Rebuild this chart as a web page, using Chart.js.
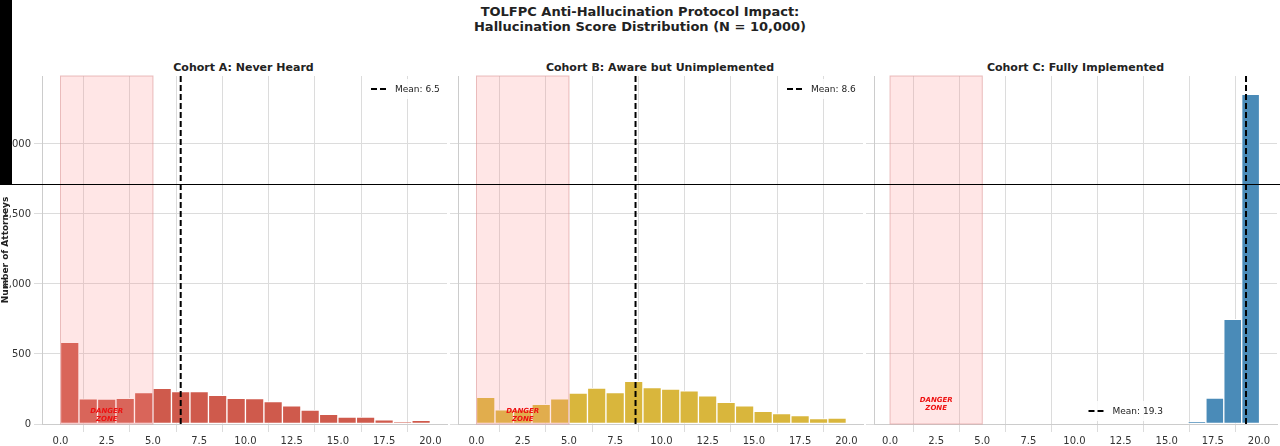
<!DOCTYPE html>
<html><head><meta charset="utf-8">
<script src="https://cdn.jsdelivr.net/npm/chart.js@4"></script>
<style>
body{margin:0;width:1280px;height:446px;overflow:hidden;background:#fff;font-family:"DejaVu Sans",sans-serif;position:relative}
.t{position:absolute;left:0;width:1280px;text-align:center;font-weight:bold;font-size:13px;line-height:15px;top:4px;color:#222}
.st{position:absolute;font-weight:bold;font-size:11px;text-align:center;top:61px;color:#222}
canvas{position:absolute}
</style></head><body>
<div class="t">TOLFPC Anti-Hallucination Protocol Impact:<br>Hallucination Score Distribution (N = 10,000)</div>
<div class="st" style="left:42px;width:403px">Cohort A: Never Heard</div>
<div class="st" style="left:458px;width:404px">Cohort B: Aware but Unimplemented</div>
<div class="st" style="left:874px;width:403px">Cohort C: Fully Implemented</div>
<div style="position:absolute;left:12px;top:0;width:1px;height:0"></div>
<div style="position:absolute;left:0;top:0;width:12px;height:185px;background:#000;z-index:5"></div>
<div style="position:absolute;left:0;top:184px;width:1280px;height:1.3px;background:#000;z-index:5"></div>
<canvas id="ca" style="left:0;top:60px;width:450px;height:400px"></canvas>
<canvas id="cb" style="left:450px;top:60px;width:416px;height:400px"></canvas>
<canvas id="cc" style="left:866px;top:60px;width:414px;height:400px"></canvas>
<script>
// histogram data (bin centers and counts)
const binsAB = [0.5,1.5,2.5,3.5,4.5,5.5,6.5,7.5,8.5,9.5,10.5,11.5,12.5,13.5,14.5,15.5,16.5,17.5,18.5,19.5];
const countsA = [583,179,178,183,224,255,231,231,205,183,181,160,129,100,69,50,50,29,14,26];
const countsB = [190,102,102,140,179,221,257,224,305,260,250,236,202,155,129,90,74,60,38,43];
const binsC = [16.64,17.61,18.58,19.55];
const countsC = [15,185,748,2355];
const means = [6.5, 8.6, 19.3];
const xTicks = [0,2.5,5,7.5,10,12.5,15,17.5,20];

const F = '"DejaVu Sans", sans-serif';

const zonePlugin = {
  id: 'zone',
  afterDatasetsDraw(chart, args, o) {
    const {ctx, chartArea: a, scales: {x, y}} = chart;
    const x0 = x.getPixelForValue(0), x5 = x.getPixelForValue(5);
    ctx.save();
    ctx.fillStyle = 'rgba(255,140,140,0.22)';
    ctx.fillRect(x0, a.top, x5 - x0, a.bottom - a.top);
    ctx.strokeStyle = 'rgba(220,150,150,0.6)';
    ctx.lineWidth = 1;
    ctx.strokeRect(x0, a.top, x5 - x0, a.bottom - a.top);
    // danger text
    ctx.fillStyle = '#ee1111';
    ctx.font = 'italic bold 7px ' + F;
    ctx.textAlign = 'center';
    const ty = y.getPixelForValue(o.textY);
    ctx.fillText('DANGER', x.getPixelForValue(2.5), ty);
    ctx.fillText('ZONE', x.getPixelForValue(2.5), ty + 8);
    // mean line
    const mx = x.getPixelForValue(o.mean);
    ctx.strokeStyle = '#000';
    ctx.lineWidth = 2;
    ctx.setLineDash([6, 3]);
    ctx.beginPath(); ctx.moveTo(mx, a.top); ctx.lineTo(mx, a.bottom); ctx.stroke();
    // legend
    const lw = 80, lh = 20;
    let lx, ly;
    if (o.legendPos === 'top') { lx = a.right - lw - 4; ly = a.top + 3; }
    else { lx = (a.left + a.right) / 2 + 5; ly = a.bottom - lh - 3; }
    ctx.setLineDash([]);
    ctx.fillStyle = 'rgba(255,255,255,0.85)';
    ctx.fillRect(lx, ly, lw, lh);
    ctx.strokeStyle = '#000'; ctx.lineWidth = 2; ctx.setLineDash([6, 3]);
    ctx.beginPath(); ctx.moveTo(lx + 8, ly + lh / 2); ctx.lineTo(lx + 26, ly + lh / 2); ctx.stroke();
    ctx.setLineDash([]);
    ctx.fillStyle = '#222'; ctx.font = '9px ' + F; ctx.textAlign = 'left'; ctx.textBaseline = 'middle';
    ctx.fillText('Mean: ' + o.mean, lx + 32, ly + lh / 2 + 1);
    ctx.restore();
  }
};

function panel(id, bins, counts, color, opts, showY, xmin, xmax, padL) {
  new Chart(document.getElementById(id), {
    type: 'bar',
    data: { datasets: [{ data: bins.map((b, i) => ({x: b, y: counts[i]})), backgroundColor: color,
      borderColor: '#fff', borderWidth: 1, barPercentage: 1, categoryPercentage: 1, borderSkipped: false }] },
    options: {
      animation: false, responsive: false,
      layout: { padding: { left: padL, right: 3, top: 16 } },
      plugins: { legend: { display: false }, tooltip: { enabled: false }, zone: opts },
      scales: {
        x: { type: 'linear', min: xmin, max: xmax, offset: false,
          afterBuildTicks: s => { s.ticks = xTicks.map(v => ({value: v})); },
          afterFit: s => { s.height = 36; },
          grid: { color: '#dcdcdc' }, border: { color: '#ccc' },
          ticks: { color: '#333', font: { family: F, size: 10 }, padding: 3, callback: v => v.toFixed(1) },
          title: { display: true, text: 'Hallucination Score', color: '#333', font: { family: F, size: 9 }, padding: 2 } },
        y: { min: 0, max: 2485,
          afterBuildTicks: s => { s.ticks = [0,500,1000,1500,2000].map(v => ({value: v})); },
          afterFit: s => { s.width = showY ? 42 : 0; },
          grid: { color: '#dcdcdc' }, border: { color: '#ccc' },
          ticks: { display: showY, color: '#333', font: { family: F, size: 10 } },
          title: { display: showY, text: 'Number of Attorneys', color: '#222', font: { family: F, size: 9, weight: 'bold' }, padding: 0 } }
      }
    },
    plugins: [zonePlugin]
  });
}
for (const id of ['ca','cb','cc']) { const c = document.getElementById(id); c.width = parseInt(c.style.width); c.height = 400; }
panel('ca', binsAB, countsA, '#cf5a4c', {mean: means[0], textY: 75, legendPos: 'top'}, true, -1, 20.9, 0);
panel('cb', binsAB, countsB, '#d9b63c', {mean: means[1], textY: 75, legendPos: 'top'}, false, -1, 20.9, 8);
panel('cc', binsC, countsC, '#4a8bb8', {mean: means[2], textY: 160, legendPos: 'bottom'}, false, -0.87, 20.98, 8);
</script>
</body></html>
